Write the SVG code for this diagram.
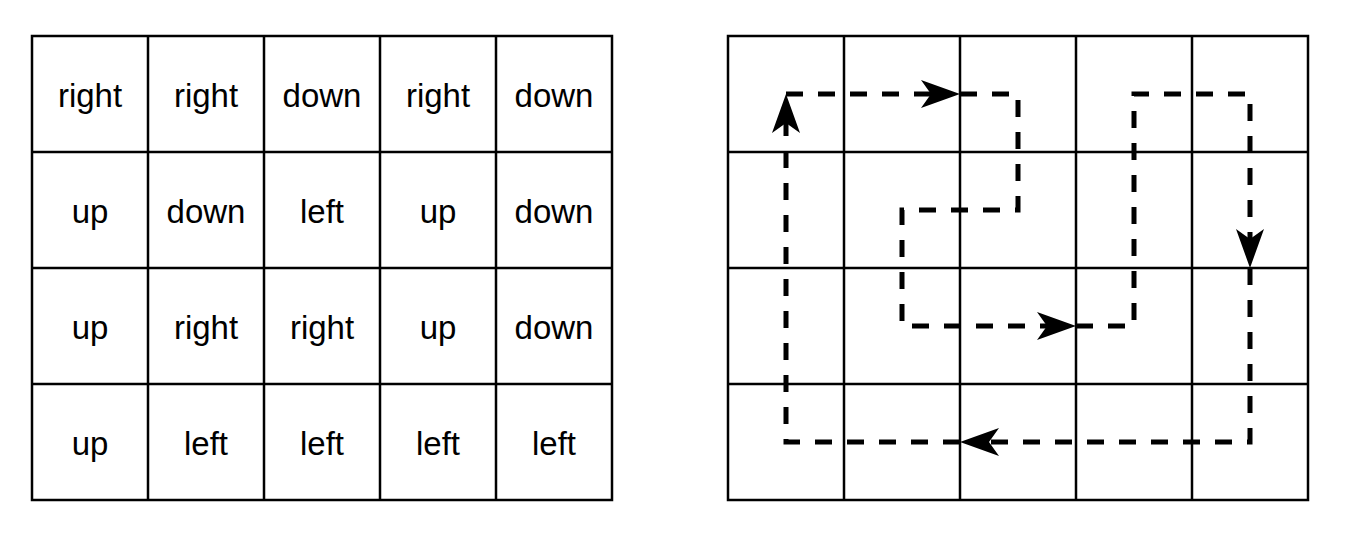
<svg xmlns="http://www.w3.org/2000/svg" width="1362" height="540" viewBox="0 0 1362 540">
<style>
.grid{fill:none;stroke:#000;stroke-width:2.5}
.lbl{font-family:"Liberation Sans",Arial,sans-serif;font-size:33px;text-anchor:middle;fill:#000}
.path{fill:none;stroke:#000;stroke-width:5;stroke-dasharray:17 15;stroke-linejoin:miter}
</style>
<defs>
<marker id="arr" markerUnits="userSpaceOnUse" markerWidth="40" markerHeight="30" refX="10" refY="14" orient="auto" overflow="visible">
<path d="M39,14 L0,0 L10,14 L0,28 Z" fill="#000"/>
</marker>
</defs>
<rect width="1362" height="540" fill="#fff"/>
<g id="left-grid">
<rect class="grid" x="32" y="36" width="580" height="464"/>
<path class="grid" d="M148,36V500M264,36V500M380,36V500M496,36V500M32,152H612M32,268H612M32,384H612"/>
</g>
<g id="left-labels">
<g id="c00"><text class="lbl" x="90" y="107">right</text></g>
<g id="c01"><text class="lbl" x="206" y="107">right</text></g>
<g id="c02"><text class="lbl" x="322" y="107">down</text></g>
<g id="c03"><text class="lbl" x="438" y="107">right</text></g>
<g id="c04"><text class="lbl" x="554" y="107">down</text></g>
<g id="c10"><text class="lbl" x="90" y="223">up</text></g>
<g id="c11"><text class="lbl" x="206" y="223">down</text></g>
<g id="c12"><text class="lbl" x="322" y="223">left</text></g>
<g id="c13"><text class="lbl" x="438" y="223">up</text></g>
<g id="c14"><text class="lbl" x="554" y="223">down</text></g>
<g id="c20"><text class="lbl" x="90" y="339">up</text></g>
<g id="c21"><text class="lbl" x="206" y="339">right</text></g>
<g id="c22"><text class="lbl" x="322" y="339">right</text></g>
<g id="c23"><text class="lbl" x="438" y="339">up</text></g>
<g id="c24"><text class="lbl" x="554" y="339">down</text></g>
<g id="c30"><text class="lbl" x="90" y="455">up</text></g>
<g id="c31"><text class="lbl" x="206" y="455">left</text></g>
<g id="c32"><text class="lbl" x="322" y="455">left</text></g>
<g id="c33"><text class="lbl" x="438" y="455">left</text></g>
<g id="c34"><text class="lbl" x="554" y="455">left</text></g>
</g>
<g id="right-grid">
<rect class="grid" x="728" y="36" width="580" height="464"/>
<path class="grid" d="M844,36V500M960,36V500M1076,36V500M1192,36V500M728,152H1308M728,268H1308M728,384H1308"/>
</g>
<g id="connectors">
<path class="path" d="M960,442 H786 V123" marker-end="url(#arr)"/>
<path class="path" d="M786,94 H931" marker-end="url(#arr)"/>
<path class="path" d="M960,94 H1018 V210 H902 V326 H1047" marker-end="url(#arr)"/>
<path class="path" d="M1076,326 H1134 V94 H1250 V239" marker-end="url(#arr)"/>
<path class="path" d="M1250,268 V442 H989" marker-end="url(#arr)"/>
</g>
</svg>
